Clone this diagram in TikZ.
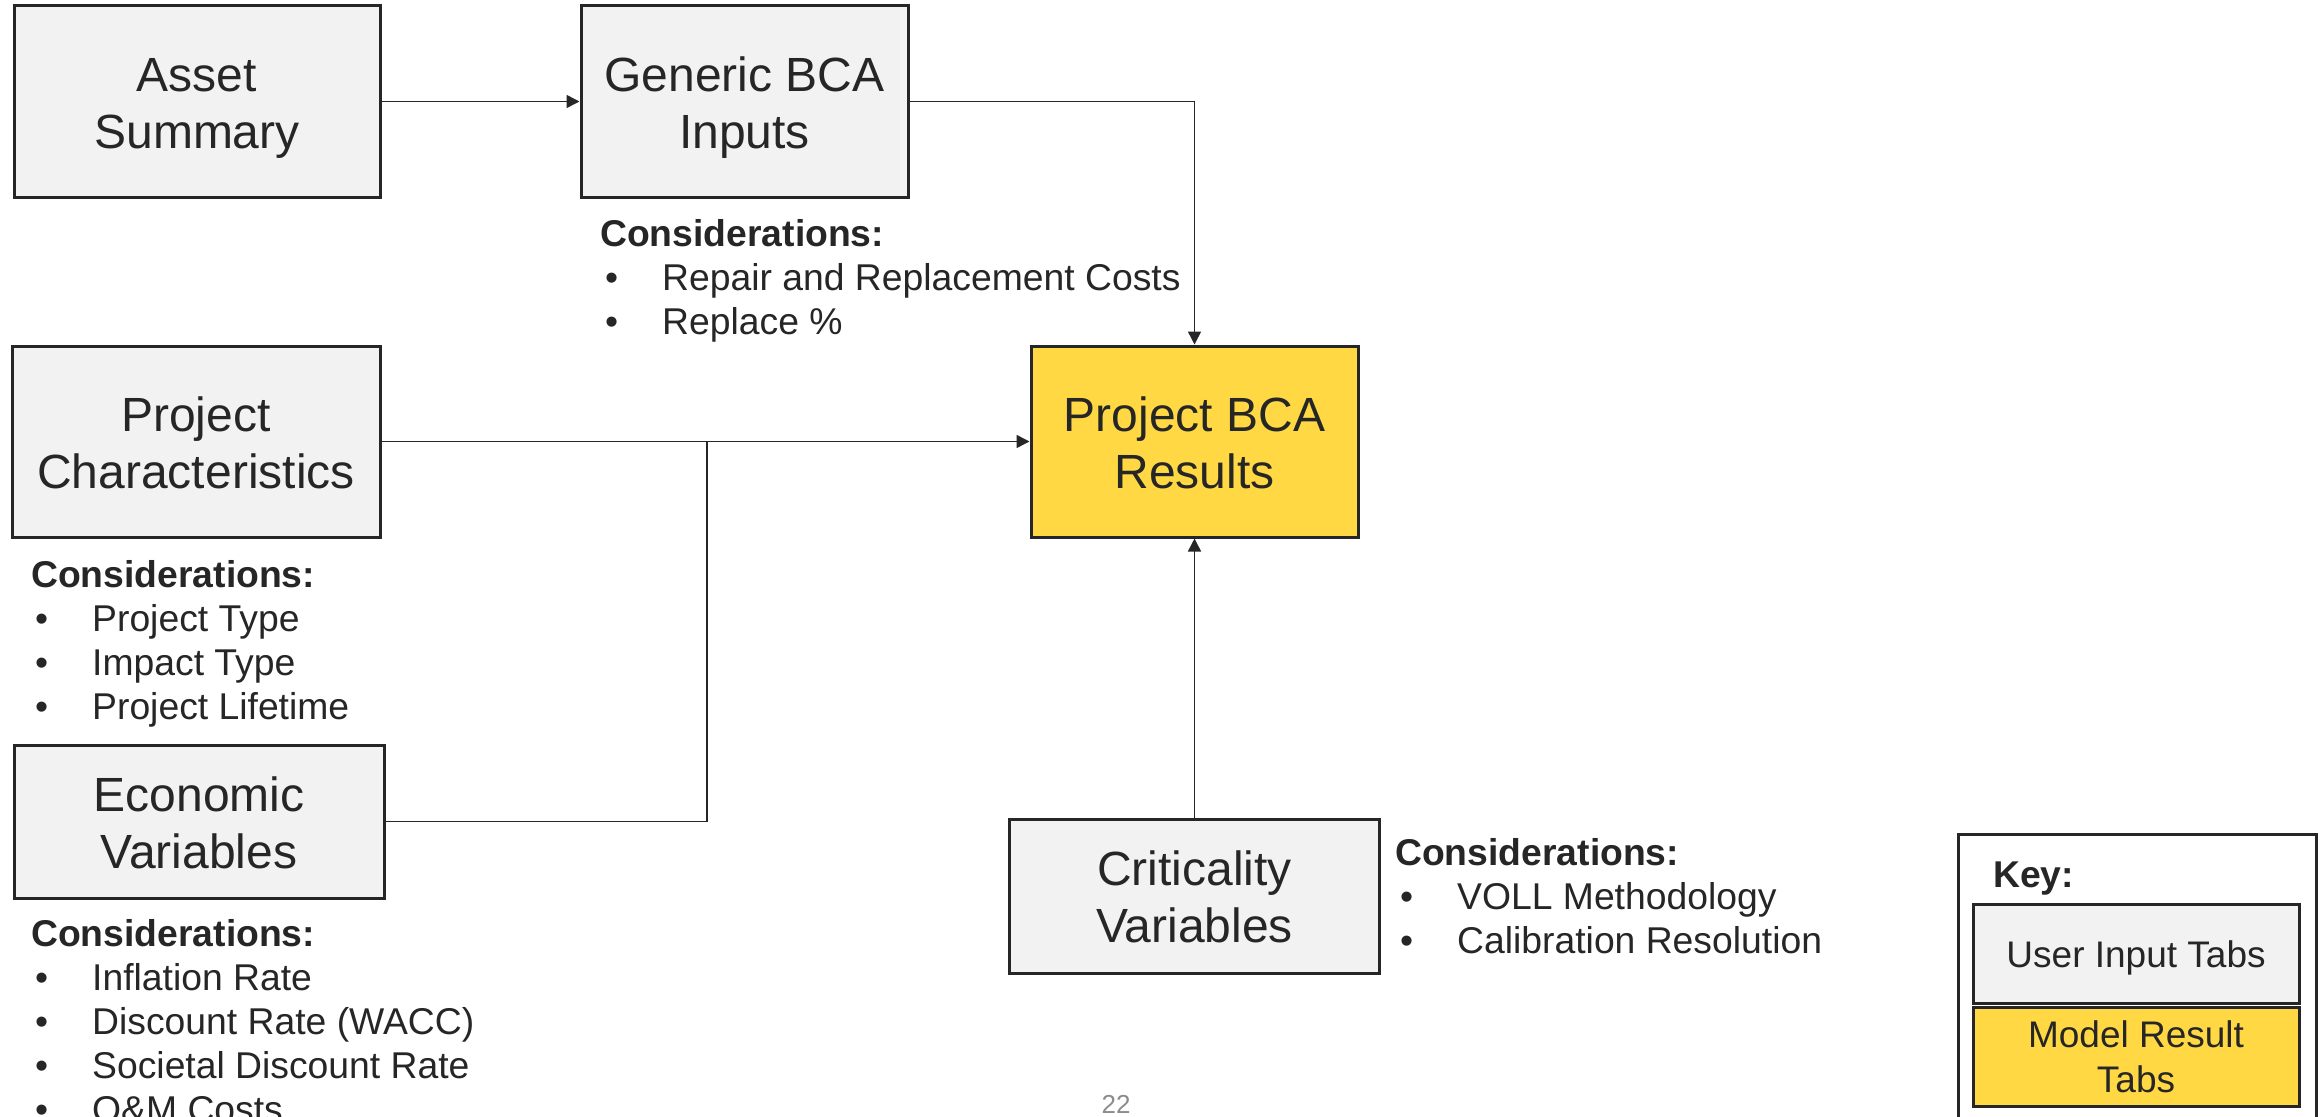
\documentclass[tikz,border=0pt]{standalone}
\usepackage{fontspec}
\setmainfont{Liberation Sans}
\usetikzlibrary{arrows.meta}
\definecolor{boxgray}{HTML}{F2F2F2}
\definecolor{boxyellow}{HTML}{FFD843}
\definecolor{ink}{HTML}{262626}
\definecolor{pagegray}{HTML}{8C8C8C}
\newcommand{\topstrut}{\rule[-12pt]{0pt}{60pt}}
\newcommand{\botstrut}{\rule[-12pt]{0pt}{46pt}}
\newcommand{\twolines}[2]{\topstrut #1\\\botstrut #2}
\begin{document}
\begin{tikzpicture}[x=1pt,y=-1pt,
  box/.style={draw=ink,line width=3pt,fill=boxgray,align=center,text=ink,
    font=\fontsize{48}{57}\selectfont,inner sep=0pt},
  keysmall/.style={font=\fontsize{37}{45}\selectfont},
  cons/.style={anchor=base west,inner sep=0pt,text=ink,font=\fontsize{37.3}{44}\selectfont},
  consh/.style={anchor=base west,inner sep=0pt,text=ink,font=\fontsize{37.3}{44}\selectfont\bfseries},
  conn/.style={draw=ink,line width=1.5pt},
  arr/.style={draw=ink,line width=1.5pt,-{Triangle[length=13pt,width=13pt]}}]
\useasboundingbox (0,0) rectangle (2320,1116);
\clip (0,0) rectangle (2320,1116);
\fill[white] (0,0) rectangle (2320,1116);

% main boxes
\node[box,minimum width=366pt,minimum height=191pt] (asset) at (197,101.5) {\twolines{Asset}{Summary}};
\node[box,minimum width=327pt,minimum height=191pt] (generic) at (744.5,101.5) {\twolines{Generic BCA}{Inputs}};
\node[box,minimum width=368pt,minimum height=191pt] (projchar) at (196,441.5) {\twolines{Project}{Characteristics}};
\node[box,fill=boxyellow,minimum width=327pt,minimum height=191pt] (bca) at (1194.5,441.5) {\twolines{Project BCA}{Results}};
\node[box,minimum width=370pt,minimum height=153pt] (econ) at (199,821.5) {\twolines{Economic}{Variables}};
\node[box,minimum width=370pt,minimum height=154pt] (crit) at (1194.5,896) {\twolines{Criticality}{Variables}};

% connectors
\coordinate (join) at (707,441.5);
\draw[arr] (asset.east) -- (generic.west);
\draw[arr] (generic.east) -| (bca.north);
\draw[arr] (projchar.east) -- (bca.west);
\draw[conn] (econ.east) -| (join);
\draw[arr] (crit.north) -- (bca.south);

% considerations: generic
\node[consh] (gh) at (600,246) {Considerations:};
\node[cons] (gb1) at (605,290) {•};
\node[cons] (gt1) at (662,290) {Repair and Replacement Costs};
\node[cons] (gb2) at (605,334) {•};
\node[cons] (gt2) at (662,334) {Replace \%};

% considerations: project characteristics
\node[consh] (ph) at (31,587) {Considerations:};
\node[cons] (pb1) at (35,631) {•};
\node[cons] (pt1) at (92,631) {Project Type};
\node[cons] (pb2) at (35,675) {•};
\node[cons] (pt2) at (92,675) {Impact Type};
\node[cons] (pb3) at (35,719) {•};
\node[cons] (pt3) at (92,719) {Project Lifetime};

% considerations: economic
\node[consh] (eh) at (31,946) {Considerations:};
\node[cons] (eb1) at (35,990) {•};
\node[cons] (et1) at (92,990) {Inflation Rate};
\node[cons] (eb2) at (35,1034) {•};
\node[cons] (et2) at (92,1034) {Discount Rate (WACC)};
\node[cons] (eb3) at (35,1078) {•};
\node[cons] (et3) at (92,1078) {Societal Discount Rate};
\node[cons] (eb4) at (35,1122) {•};
\node[cons] (et4) at (92,1122) {O\&M Costs};

% considerations: criticality
\node[consh] (ch) at (1395,865) {Considerations:};
\node[cons] (cb1) at (1400,909) {•};
\node[cons] (ct1) at (1457,909) {VOLL Methodology};
\node[cons] (cb2) at (1400,953) {•};
\node[cons] (ct2) at (1457,953) {Calibration Resolution};

% key
\node[draw=ink,line width=3pt,minimum width=358pt,minimum height=300pt,anchor=north west,inner sep=0pt] (key) at (1957,833) {};
\node[consh] (keylabel) at (1993,887) {Key:};
\node[box,keysmall,text height=36pt,text depth=8pt,minimum width=326pt,minimum height=99pt] (userin) at (2136,953.5) {User Input Tabs};
\node[box,keysmall,fill=boxyellow,minimum width=326pt,minimum height=99pt] (modelres) at (2136,1056.5) {Model Result\\Tabs};

% page number
\node[text=pagegray,font=\fontsize{26}{30}\selectfont,inner sep=0pt] (pagenum) at (1116,1104) {22};
\end{tikzpicture}
\end{document}
